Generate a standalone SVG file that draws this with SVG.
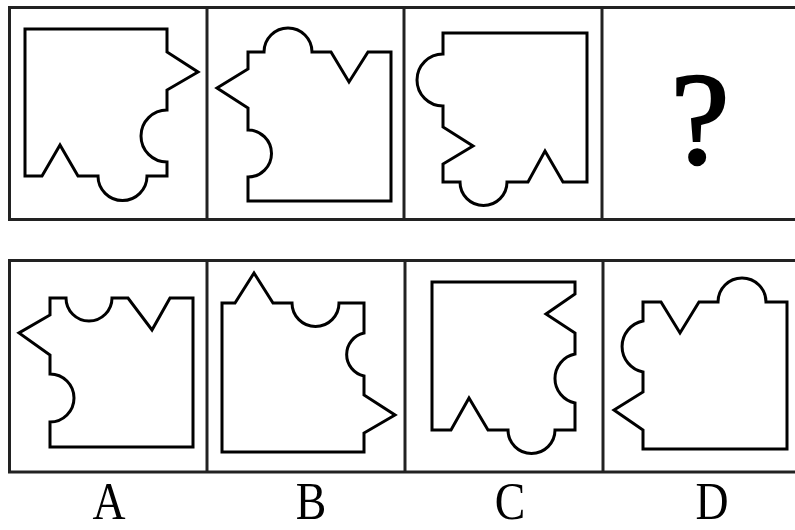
<svg xmlns="http://www.w3.org/2000/svg" width="795" height="530" viewBox="0 0 795 530">
<style>
.frame{fill:none;stroke:#222;stroke-width:3}
.shape{fill:none;stroke:#000;stroke-width:3;stroke-linejoin:miter}
.lbl{font-family:"Liberation Serif","Times New Roman",serif;fill:#000;text-anchor:middle}
</style>
<rect width="795" height="530" fill="#fff"/>
<g id="frames">
<rect class="frame" x="9.5" y="7.5" width="800" height="212"/>
<line class="frame" x1="207" y1="7.5" x2="207" y2="219.5"/>
<line class="frame" x1="404" y1="7.5" x2="404" y2="219.5"/>
<line class="frame" x1="602" y1="7.5" x2="602" y2="219.5"/>
<rect class="frame" x="9.5" y="260.5" width="800" height="211.5"/>
<line class="frame" x1="207" y1="260.5" x2="207" y2="472"/>
<line class="frame" x1="405" y1="260.5" x2="405" y2="472"/>
<line class="frame" x1="603" y1="260.5" x2="603" y2="472"/>
</g>
<g id="q1"><path class="shape" d="M25,29 H167 V52 L198,72 L167,90 V110 A26,26 0 0 0 167,162 V176 H147 A24.5,24.5 0 0 1 98,176 H78 L60,145 L42,176 H25 Z"/></g>
<g id="q2"><path class="shape" d="M248,52 H264 A24,24 0 0 1 312,52 H331 L349,82 L368,52 H391 V201 H248 V177 A23.5,23.5 0 0 0 248,130 V108 L217,88 L248,69 Z"/></g>
<g id="q3"><path class="shape" d="M443,33 H587 V182 H563 L545,151 L528,182 H507 A23.5,23.5 0 0 1 460,182 H443 V164 L473,146 L443,127 V106 A26,26 0 0 1 443,54 Z"/></g>
<g id="q4"><text class="lbl" x="700" y="163" font-size="132" stroke="#000" stroke-width="2.5">?</text></g>
<g id="optA"><path class="shape" d="M50,298 H66 A23,23 0 0 0 112,298 H128 L152,330 L170,298 H193 V447 H50 V422 A24,24 0 0 0 50,374 V355 L19,333 L50,315 Z"/></g>
<g id="optB"><path class="shape" d="M222,303 H235 L254,273 L273,303 H292 A23.5,23.5 0 0 0 339,303 H364 V333 A22,22 0 0 0 364,376 V395 L395,415 L364,433 V452 H222 Z"/></g>
<g id="optC"><path class="shape" d="M432,282 H575 V294 L546,314 L575,333 V354 A25,25 0 0 0 575,403 V430 H555 A23.5,23.5 0 0 1 508,430 H488 L469,398 L451,430 H432 Z"/></g>
<g id="optD"><path class="shape" d="M643,302 H661 L680,333 L699,302 H718 A24,24 0 0 1 766,302 H787 V449 H643 V430 L614,410 L643,392 V372 A26,26 0 0 1 643,321 Z"/></g>
<g id="labels">
<text class="lbl" font-size="52" transform="translate(109,519) scale(0.88,1)">A</text>
<text class="lbl" font-size="52" transform="translate(311,519) scale(0.88,1)">B</text>
<text class="lbl" font-size="52" transform="translate(510,519) scale(0.88,1)">C</text>
<text class="lbl" font-size="52" transform="translate(712,519) scale(0.88,1)">D</text>
</g>
</svg>
